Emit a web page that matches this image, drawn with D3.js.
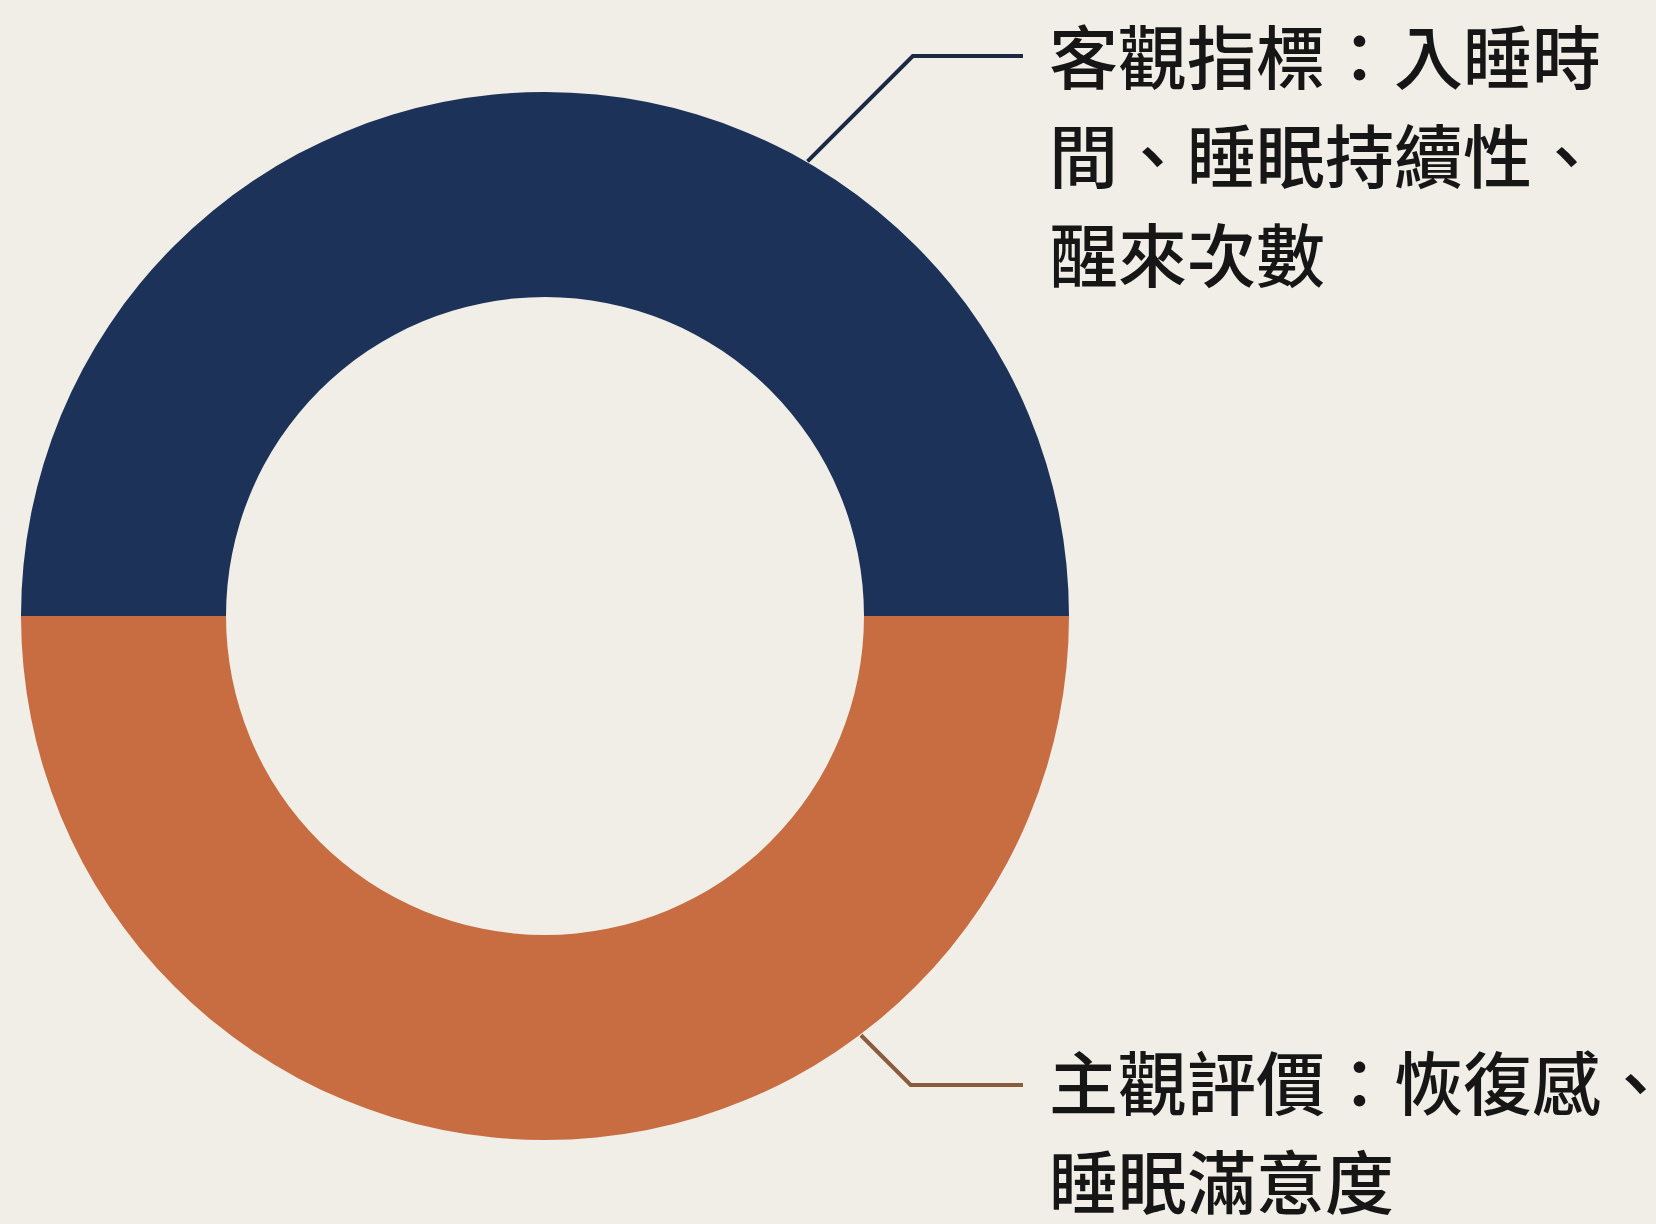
<!DOCTYPE html>
<html lang="zh-Hant">
<head>
<meta charset="utf-8">
<title>睡眠評估指標</title>
<script src="https://cdn.jsdelivr.net/npm/d3@7"></script>
<style>
  html, body { margin: 0; padding: 0; background: #f0eee7; }
  svg { display: block; }
  .label { font-family: "Noto Sans CJK TC", "Noto Sans CJK SC", sans-serif; font-weight: 500; fill: #161616; }
</style>
</head>
<body>
<svg id="chart" width="1656" height="1224"></svg>
<script>
// Two halves of the sleep assessment: objective measures and subjective ratings
const categories = ["客觀指標", "主觀評價"];
const shares = [50, 50];
const labelLines = [
  ["客觀指標：入睡時", "間、睡眠持續性、", "醒來次數"],
  ["主觀評價：恢復感、", "睡眠滿意度"]
];
const colors = ["#1c3258", "#c86d41"];
const leaderColors = ["#1b2a42", "#8a5b3d"];
// Angle (degrees, clockwise from 12 o'clock) where each leader leaves the ring
const leaderAngles = [30, 143];

const W = 1656, H = 1224;
const cx = 545, cy = 616;
const outerR = 524, innerR = 319;
const textX = 1049, lineGap = 99, fontSize = 69;
const leaderY = [56, 1085];
const labelCenter = [60, 1086];
const leaderEndX = 1023;

const svg = d3.select("#chart");
svg.append("rect").attr("width", W).attr("height", H).attr("fill", "#f0eee7");

const data = categories.map((c, i) => ({ name: c, value: shares[i], i }));

const pie = d3.pie()
  .value(d => d.value)
  .sort(null)
  .startAngle(-Math.PI / 2)
  .endAngle(Math.PI * 1.5);

const arc = d3.arc().innerRadius(innerR).outerRadius(outerR);

const g = svg.append("g").attr("transform", `translate(${cx},${cy})`);
g.selectAll("path.slice")
  .data(pie(data))
  .join("path")
  .attr("class", "slice")
  .attr("d", arc)
  .attr("fill", d => colors[d.data.i]);

// Leader lines: from the ring edge at 45° to the first label line, then across
data.forEach((d, i) => {
  const a = leaderAngles[i] * Math.PI / 180;
  const r = outerR + 1;
  const px = cx + r * Math.sin(a);
  const py = cy - r * Math.cos(a);
  const ey = leaderY[i];
  const ex = px + Math.abs(ey - py);
  svg.append("path")
    .attr("d", d3.line()([[px, py], [ex, ey], [leaderEndX, ey]]))
    .attr("fill", "none")
    .attr("stroke", leaderColors[i])
    .attr("stroke-width", 4)
    .attr("stroke-linejoin", "miter");
});

// Category labels (glyphs sit a few px below the em-box centre, hence the shift)
labelLines.forEach((lines, i) => {
  const t = svg.append("text")
    .attr("class", "label")
    .attr("font-size", fontSize)
    .attr("dominant-baseline", "central");
  lines.forEach((ln, j) => {
    t.append("tspan")
      .attr("x", textX)
      .attr("y", labelCenter[i] - 6 + j * lineGap)
      .text(ln);
  });
});
</script>
</body>
</html>
